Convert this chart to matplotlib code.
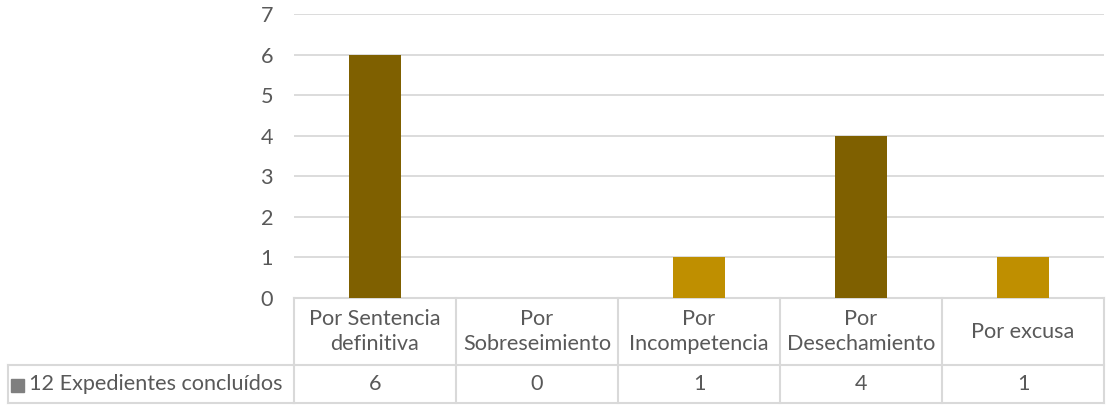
import matplotlib.pyplot as plt
from matplotlib.lines import Line2D
from matplotlib.patches import Rectangle

# data
categories = ["Por Sentencia\ndefinitiva", "Por\nSobreseimiento", "Por\nIncompetencia",
              "Por\nDesechamiento", "Por excusa"]
values = [6, 0, 1, 4, 1]
bar_colors = ["#7F6000", "#BF8F00", "#BF8F00", "#7F6000", "#BF8F00"]
series_name = "12 Expedientes concluídos"
yticks = [0, 1, 2, 3, 4, 5, 6, 7]

plt.rcParams['font.family'] = ['Lato', 'DejaVu Sans']
txt = "#595959"
grid = "#D9D9D9"
fs = 15.6

W, H = 1106, 405
fig = plt.figure(figsize=(W / 100, H / 100), dpi=100)
left, right, top, base = 294, 1104, 14, 298
ax = fig.add_axes([left / W, 1 - base / H, (right - left) / W, (base - top) / H])

x = list(range(len(categories)))
ax.bar(x, values, width=0.315, color=bar_colors, zorder=3)
ax.set_xlim(-0.5, len(categories) - 0.5)
ax.set_ylim(0, 7)
ax.set_yticks(yticks)
ax.set_yticklabels([str(v) for v in yticks], color=txt, fontsize=fs)
ax.tick_params(axis='y', length=0, pad=15)
ax.set_xticks([])
ax.grid(axis='y', color=grid, linewidth=1.3, zorder=0)
for s in ax.spines.values():
    s.set_visible(False)

# data table under the plot
axh = base - top
r1 = -(365 - base) / axh
r2 = -(403 - base) / axh
tr = ax.get_xaxis_transform()
lw = 1.5
n = len(categories)
for yy in [0, r1, r2]:
    ax.add_line(Line2D([-0.5, n - 0.5], [yy, yy], transform=tr, color=grid, lw=lw, clip_on=False))
for i in range(n + 1):
    ax.add_line(Line2D([i - 0.5, i - 0.5], [0, r2], transform=tr, color=grid, lw=lw, clip_on=False))
for i, (c, v) in enumerate(zip(categories, values)):
    ax.text(i, r1 / 2, c, transform=tr, ha='center', va='center', color=txt,
            fontsize=fs, linespacing=1.28, clip_on=False)
    ax.text(i, (r1 + r2) / 2, str(v), transform=tr, ha='center', va='center', color=txt,
            fontsize=fs, clip_on=False)

# legend cell
y1f, y2f = 1 - 365 / H, 1 - 403 / H
for yy in [y1f, y2f]:
    fig.add_artist(Line2D([8 / W, left / W], [yy, yy], color=grid, lw=lw))
fig.add_artist(Line2D([8 / W, 8 / W], [y1f, y2f], color=grid, lw=lw))
fig.add_artist(Rectangle((11 / W, 1 - 392 / H), 13 / W, 13 / H, color="#7F7F7F"))
fig.text(29 / W, (y1f + y2f) / 2, series_name, ha='left', va='center', color=txt, fontsize=fs)

fig.savefig("out.png", dpi=100)
